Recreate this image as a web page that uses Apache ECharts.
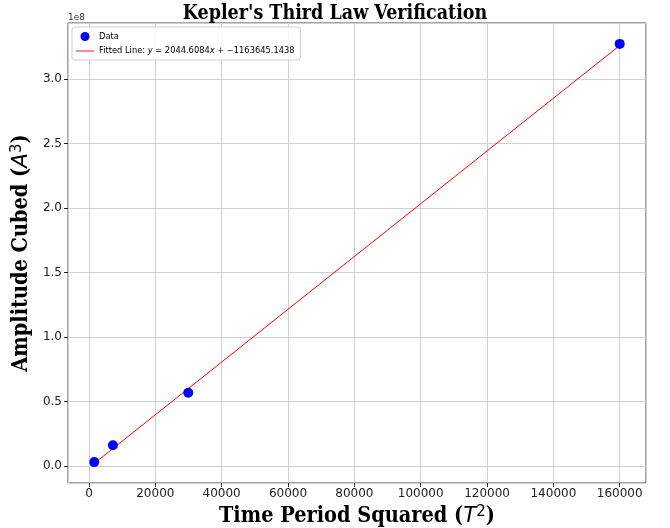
<!DOCTYPE html>
<html>
<head>
<meta charset="utf-8">
<script src="https://cdn.jsdelivr.net/npm/echarts@6/dist/echarts.min.js"></script>
<style>
  html, body { margin: 0; padding: 0; background: #fff; }
  #chart { width: 670px; height: 528px; }
</style>
</head>
<body>
<div id="chart"></div>
<script>
// Measured periods squared and amplitudes cubed
const periodSquared = [1600, 7225, 29929, 160000];
const amplitudeCubed = [3.1e6, 16.1e6, 56.8e6, 327.2e6];

// Least-squares fit coefficients shown in the legend
const fitSlope = 2044.6084;
const fitIntercept = -1163645.1438;

const xTickStep = 20000;
const yTickStep = 0.5e8;

const scatterData = periodSquared.map((t, i) => [t, amplitudeCubed[i]]);
const xLo = Math.min(...periodSquared), xHi = Math.max(...periodSquared);
const fitData = [[xLo, fitSlope * xLo + fitIntercept], [xHi, fitSlope * xHi + fitIntercept]];

// 5% padding around the data range on both axes
function padded(vals) {
  const lo = Math.min(...vals), hi = Math.max(...vals), r = hi - lo;
  return [lo - 0.05 * r, hi + 0.05 * r];
}
const [xMin, xMax] = padded(periodSquared);
const [yMin, yMax] = padded(amplitudeCubed);

const chart = echarts.init(document.getElementById('chart'), null, { renderer: 'canvas' });

const serif = "'DejaVu Serif Condensed', 'DejaVu Serif', serif";
const sans = "'DejaVu Sans', sans-serif";

function axisNameRich(size) {
  return {
    t: { fontFamily: serif, fontWeight: 'bold', fontSize: size, color: '#000' },
    m: { fontFamily: sans, fontStyle: 'italic', fontSize: size, color: '#000' },
    s: { fontFamily: sans, fontSize: Math.round(size * 0.7), color: '#000', verticalAlign: 'top', padding: [0, 0, 8, 0] }
  };
}

chart.setOption({
  animation: false,
  backgroundColor: '#ffffff',
  title: {
    text: "Kepler's Third Law Verification",
    left: 'center',
    top: 4, padding: 0,
    textStyle: { fontFamily: serif, fontWeight: 'bold', fontSize: 19.5, color: '#000' }
  },
  graphic: [{
    type: 'text', left: 68, top: 13,
    style: { text: '1e8', font: "9px 'DejaVu Sans'", fill: '#333' }
  }],
  legend: {
    left: 72, top: 27, orient: 'vertical', itemGap: 6,
    padding: [5, 6, 5, 4],
    backgroundColor: 'rgba(255,255,255,0.8)',
    borderColor: '#d0d0d0', borderWidth: 1, borderRadius: 3,
    itemWidth: 18, itemHeight: 9,
    textStyle: {
      fontFamily: sans, fontSize: 8.3, color: '#000',
      rich: { it: { fontStyle: 'italic', fontFamily: sans, fontSize: 8.3 } }
    },
    formatter: function (name) {
      if (name === 'Data') return 'Data';
      return 'Fitted Line: {it|y} = ' + fitSlope.toFixed(4) + '{it|x} + \u2212' + Math.abs(fitIntercept).toFixed(4);
    },
    data: [
      { name: 'Data', icon: 'circle' },
      { name: 'Fitted Line', icon: 'path://M0,5 L20,5 L20,6 L0,6 Z' }
    ]
  },
  grid: {
    left: 68, right: 24, top: 23, bottom: 45,
    containLabel: false, outerBoundsMode: 'none',
    show: true, borderColor: '#444', borderWidth: 1
  },
  xAxis: {
    type: 'value', min: xMin, max: xMax,
    minInterval: xTickStep, maxInterval: xTickStep,
    name: '{t|Time Period Squared (}{m|T}{s|2}{t|)}',
    nameLocation: 'middle', nameGap: 17,
    nameTextStyle: { rich: axisNameRich(21.5) },
    axisLine: { show: false, onZero: false },
    axisTick: { show: true, length: 4, lineStyle: { color: '#222' } },
    axisLabel: { showMinLabel: false, showMaxLabel: false, fontFamily: sans, fontSize: 12, color: '#222', margin: 5,
      formatter: v => String(Math.round(v)) },
    splitLine: { show: true, lineStyle: { color: '#d0d0d0', width: 1 } }
  },
  yAxis: {
    type: 'value', min: yMin, max: yMax,
    minInterval: yTickStep, maxInterval: yTickStep,
    name: '{t|Amplitude Cubed (}{m|A}{s|3}{t|)}',
    nameLocation: 'middle', nameGap: 27,
    nameTextStyle: { rich: axisNameRich(21.5) },
    axisLine: { show: false, onZero: false },
    axisTick: { show: true, length: 4, lineStyle: { color: '#222' } },
    axisLabel: { showMinLabel: false, showMaxLabel: false, fontFamily: sans, fontSize: 12, color: '#222', margin: 6,
      formatter: v => (v / 1e8).toFixed(1) },
    splitLine: { show: true, lineStyle: { color: '#d0d0d0', width: 1 } }
  },
  series: [
    {
      name: 'Fitted Line', type: 'line', data: fitData,
      showSymbol: false, symbol: 'none',
      lineStyle: { color: '#ff0000', width: 1 }, itemStyle: { color: '#ff0000' },
      z: 2
    },
    {
      name: 'Data', type: 'scatter', data: scatterData,
      symbol: 'circle', symbolSize: 10,
      itemStyle: { color: '#0000ff', opacity: 1 },
      z: 3
    }
  ]
});
</script>
</body>
</html>
